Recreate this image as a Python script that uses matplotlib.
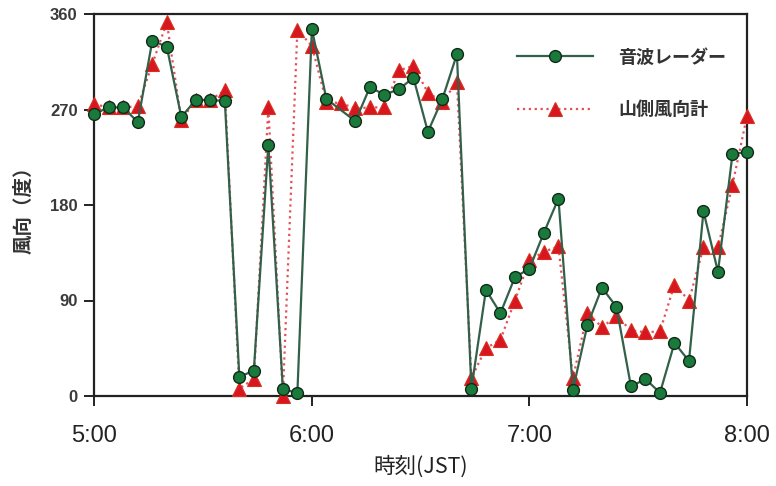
import numpy as np
import matplotlib
matplotlib.use("Agg")
import matplotlib.pyplot as plt

# minutes after 5:00
minutes = list(range(0, 181, 4))

radar = [266, 272, 272, 258, 335, 329, 263, 279, 279, 278,
         18, 24, 237, 7, 2.5, 346, 280, np.nan, 259, 291,
         284, 289, 300, 249, 280, 322, 7, 100, 78, 112,
         120, 154, 186, 6, 67, 102, 84, 9, 16, 3,
         50, 33, 174, 117, 228, 230]

vane = [275, 272, 272, 273, 313, 352, 260, 279, 279, 288,
        7, 16, 272, 0, 345, 330, 277, 276, 271, 272,
        272, 307, 311, 286, 277, 296, 17, 45, 53, 90,
        128, 136, 141, 17, 78, 65, 75, 62, 60, 61,
        105, 90, 140, 140, 199, 264]

x_ticks = [0, 60, 120, 180]
x_labels = ["5:00", "6:00", "7:00", "8:00"]
y_ticks = [0, 90, 180, 270, 360]

series_names = ["音波レーダー", "山側風向計"]
xlabel = "時刻(JST)"
ylabel = "風向（度）"

LAT = ["Liberation Sans", "Noto Sans CJK JP", "DejaVu Sans"]
CJK = ["Noto Sans CJK JP", "DejaVu Sans"]

W, H = 776, 486
fig = plt.figure(figsize=(W / 100, H / 100), dpi=100)
ax = fig.add_axes([94.3 / W, 1 - 396 / H, (747 - 94.3) / W, (396 - 14) / H])

t = np.array(minutes, dtype=float)
r = np.array(radar, dtype=float)
v = np.array(vane, dtype=float)
m = ~np.isnan(r)

ax.plot(t, v, linestyle=":", color="#e4505a", linewidth=1.6,
        marker="^", markersize=9.5, markerfacecolor="#d8161f",
        markeredgecolor="#d8301f", markeredgewidth=0.8,
        clip_on=False, zorder=3, label=series_names[1])
ax.plot(t[m], r[m], linestyle="-", color="#33604a", linewidth=1.6,
        marker="o", markersize=8.5, markerfacecolor="#1a7a3c",
        markeredgecolor="#102a18", markeredgewidth=1.0,
        clip_on=False, zorder=4, label=series_names[0])

ax.set_xlim(0, 180)
ax.set_ylim(0, 360)
ax.set_xticks(x_ticks)
ax.set_xticklabels(x_labels, family=LAT, fontsize=17)
ax.set_yticks(y_ticks)
ax.set_yticklabels([str(y) for y in y_ticks], family=LAT, fontsize=12,
                   fontweight="bold")

for s in ax.spines.values():
    s.set_linewidth(1.6)
    s.set_color("#222222")
ax.tick_params(axis="both", direction="out", length=7, width=1.4, color="#222222")
ax.tick_params(axis="x", pad=14, labelcolor="#222222")
ax.tick_params(axis="y", pad=5, labelcolor="#3a3a3a")

ax.set_xlabel(xlabel, family=CJK, fontsize=15.5, color="#222222", labelpad=6)
ax.yaxis.set_label_coords(-0.094, 0.565)
ax.set_ylabel(ylabel, family=CJK, fontsize=14, fontweight="bold", color="#333333")

handles, labels = ax.get_legend_handles_labels()
leg = ax.legend(handles[::-1], labels[::-1], loc="upper left",
                bbox_to_anchor=(0.648, 0.912), frameon=False,
                borderpad=0, borderaxespad=0, handlelength=4.2,
                handletextpad=1.4, labelspacing=1.85,
                prop={"family": CJK, "size": 13, "weight": "bold"})
for txt in leg.get_texts():
    txt.set_color("#333333")

fig.savefig("out.png", dpi=100, facecolor="white")
